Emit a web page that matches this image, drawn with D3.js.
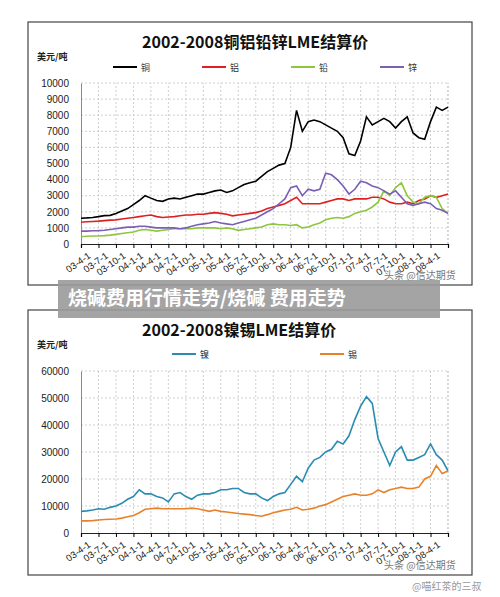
<!DOCTYPE html><html><head><meta charset="utf-8"><script src="https://cdn.jsdelivr.net/npm/d3@7"></script>
<style>body{margin:0;background:#fff}svg{font-family:"Noto Sans CJK SC",sans-serif}</style></head><body><svg id="s" width="500" height="597"></svg>
<script>
const tickLabels=["03-4-1","03-7-1","03-10-1","04-1-1","04-4-1","04-7-1","04-10-1","05-1-1","05-4-1","05-7-1","05-10-1","06-1-1","06-4-1","06-7-1","06-10-1","07-1-1","07-4-1","07-7-1","07-10-1","08-1-1","08-4-1"];
const copper=[1600,1620,1650,1700,1760,1780,1900,2050,2200,2450,2700,3000,2850,2700,2650,2800,2850,2800,2900,3000,3100,3100,3200,3300,3350,3200,3300,3500,3700,3800,3900,4200,4500,4700,4900,5000,6000,8300,7000,7600,7700,7600,7400,7200,7000,6600,5600,5500,6400,7900,7400,7600,7800,7600,7200,7600,7900,6900,6600,6500,7600,8500,8300,8500];
const aluminium=[1350,1380,1400,1420,1450,1480,1500,1550,1600,1650,1700,1750,1800,1700,1650,1680,1700,1750,1800,1800,1850,1850,1900,1950,1900,1850,1750,1800,1850,1900,1950,2050,2200,2300,2400,2500,2700,2900,2500,2500,2500,2500,2600,2700,2800,2800,2700,2800,2800,2800,2900,2900,2800,2600,2500,2500,2600,2500,2700,2800,3000,2900,3000,3100];
const lead=[450,480,500,500,520,550,600,650,700,750,850,900,850,800,850,900,950,950,950,950,1000,1000,1000,1000,950,1000,950,850,900,950,1000,1050,1200,1250,1200,1200,1150,1200,1000,1050,1200,1300,1500,1600,1650,1600,1700,1900,2000,2100,2300,2600,3300,3000,3500,3800,3000,2600,2500,2900,3000,2900,2200,1900];
const zinc=[800,800,820,830,850,900,950,1000,1050,1050,1100,1100,1050,1000,1000,1000,1000,950,1000,1100,1200,1250,1300,1400,1300,1250,1200,1300,1400,1500,1600,1800,2000,2200,2500,2800,3500,3600,3000,3400,3300,3400,4400,4300,4000,3600,3100,3400,3900,3800,3600,3500,3300,3100,3300,2900,2500,2400,2500,2600,2500,2200,2100,1900];
const nickel=[8000,8200,8500,9000,8800,9500,10000,11000,12500,13500,16000,14500,14500,13500,13000,11500,14500,15000,13500,12500,14000,14500,14500,15000,16000,16000,16500,16500,15000,14500,14500,13000,12000,13500,14500,15000,18000,21000,19000,24000,27000,28000,30000,31000,34000,33000,36000,42000,47000,50500,48000,35000,30000,25000,30000,32000,27000,27000,28000,29000,33000,29000,27000,23000];
const tin=[4500,4500,4600,4800,5000,5100,5200,5500,6000,6500,7500,8800,9000,9200,9000,9000,9000,9000,9000,9200,9000,8500,8000,8500,8000,7800,7500,7200,7000,6800,6500,6200,6800,7500,8000,8500,8800,9500,8500,8800,9200,10000,10500,11500,12500,13500,14000,14500,14000,14000,14500,16000,15000,16000,16500,17000,16500,16500,17000,20000,21000,25000,22000,23000];

const svg=d3.select("#s");
function chart(o){
  const g=svg.append("g");
  g.append("rect").attr("x",o.fx).attr("y",o.fy).attr("width",444).attr("height",o.fh).attr("fill","#fff").attr("stroke","#444").attr("stroke-width",1.2);
  g.append("text").attr("x",o.tx).attr("y",o.fy+26).attr("font-size",16).attr("font-weight","bold").attr("fill","#111").text(o.title);
  g.append("text").attr("x",37).attr("y",o.fy+38).attr("font-size",9).attr("font-weight","bold").attr("fill","#222").text("美元/吨");
  const x=d3.scaleLinear().domain([0,63]).range([81,448]);
  const y=d3.scaleLinear().domain([0,o.max]).range([o.y0,o.y1]);
  const gt=d3.range(0,o.max+1,o.step);
  g.selectAll(".h").data(gt.slice(1)).join("line").attr("x1",81).attr("x2",448).attr("y1",d=>y(d)).attr("y2",d=>y(d)).attr("stroke","#bbb").attr("stroke-dasharray","2,2").attr("stroke-width",0.7);
  const xt=d3.range(0,22).map(i=>i*3);
  g.selectAll(".v").data(xt.slice(1)).join("line").attr("x1",d=>x(d)).attr("x2",d=>x(d)).attr("y1",o.y0).attr("y2",o.y1).attr("stroke","#bbb").attr("stroke-dasharray","2,2").attr("stroke-width",0.7);
  g.append("line").attr("x1",448).attr("x2",448).attr("y1",o.y0).attr("y2",o.y1).attr("stroke","#bbb").attr("stroke-dasharray","2,2").attr("stroke-width",0.7);
  const ya=g.append("g").attr("transform","translate(81,0)").call(d3.axisLeft(y).tickValues(gt).tickSize(0).tickPadding(12).tickFormat(d3.format("d")));
  ya.select(".domain").attr("stroke","#888");ya.selectAll("text").attr("font-size",10).attr("fill","#222").attr("font-family","Arial");
  const xa=g.append("g").attr("transform",`translate(0,${o.y0})`).call(d3.axisBottom(x).tickValues(xt).tickSize(4).tickFormat((d,i)=>tickLabels[i]||""));
  xa.select(".domain").attr("stroke","#222").attr("stroke-width",1.2);
  xa.selectAll("text").attr("font-size",9.5).attr("fill","#222").attr("font-family","Arial").attr("text-anchor","end").attr("transform","translate(2,2) rotate(-35)").attr("dy","0.7em");
  const line=d3.line().x((d,i)=>x(i)).y(d=>y(d));
  o.series.forEach((s,k)=>{
    g.append("path").datum(s.v).attr("d",line).attr("fill","none").attr("stroke",s.c).attr("stroke-width",1.6);
    const lx=o.lx[k];
    g.append("line").attr("x1",lx).attr("x2",lx+24).attr("y1",o.ly).attr("y2",o.ly).attr("stroke",s.c).attr("stroke-width",2);
    g.append("text").attr("x",lx+28).attr("y",o.ly+4).attr("font-size",9).attr("fill","#333").text(s.n);
  });
  g.append("text").attr("x",384).attr("y",o.fy+o.fh-6).attr("font-size",10).attr("fill","#777").text("头条 @信达期货");
}
chart({fx:28,fy:22,fh:263,tx:142,title:"2002-2008铜铝铅锌LME结算价",max:10000,step:1000,y0:244,y1:83,ly:67,lx:[113,202,291,380],
  series:[{n:"铜",c:"#000",v:copper},{n:"铝",c:"#e02020",v:aluminium},{n:"铅",c:"#8dc63f",v:lead},{n:"锌",c:"#7b5fb5",v:zinc}]});
chart({fx:28,fy:310,fh:265,tx:142,title:"2002-2008镍锡LME结算价",max:60000,step:10000,y0:533,y1:371,ly:354,lx:[172,320],
  series:[{n:"镍",c:"#2a8cb0",v:nickel},{n:"锡",c:"#e8822a",v:tin}]});
svg.append("rect").attr("x",58).attr("y",280).attr("width",382).attr("height",38).attr("fill","#9a9a9a").attr("opacity",0.9);
svg.append("text").attr("x",68).attr("y",305).attr("font-size",19).attr("font-weight","bold").attr("fill","#fff").text("烧碱费用行情走势/烧碱 费用走势");
svg.append("text").attr("x",412).attr("y",590).attr("font-size",10).attr("fill","#999").text("@喵红茶的三叔");
</script></body></html>
